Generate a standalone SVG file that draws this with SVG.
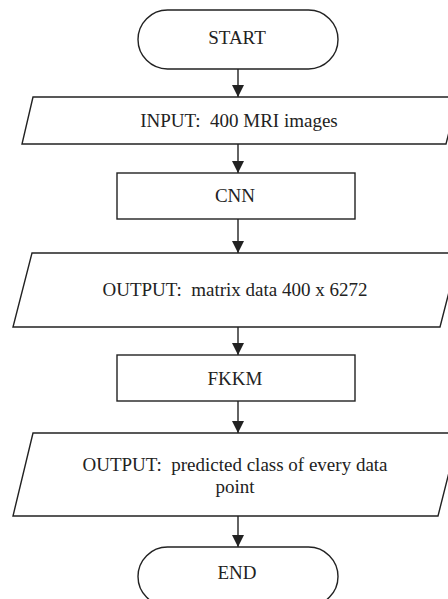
<svg xmlns="http://www.w3.org/2000/svg" width="448" height="599" viewBox="0 0 448 599">
<defs>
<style>
.s{fill:#fff;stroke:#222;stroke-width:1.4}
.t{font-family:"Liberation Serif","Times New Roman",serif;font-size:19px;fill:#222;text-anchor:middle;white-space:pre}
.c{stroke:#222;stroke-width:1.4;fill:none}
</style>
<marker id="ah" viewBox="0 0 12 12" refX="12" refY="6" markerWidth="12" markerHeight="12" markerUnits="userSpaceOnUse" orient="auto">
<path d="M0,0 L12,6 L0,12 Z" fill="#222"/>
</marker>
</defs>
<rect width="448" height="599" fill="#fff"/>
<g id="connectors">
<line class="c" x1="238" y1="69" x2="238" y2="97" marker-end="url(#ah)"/>
<line class="c" x1="238" y1="144" x2="238" y2="173" marker-end="url(#ah)"/>
<line class="c" x1="238" y1="219" x2="238" y2="253" marker-end="url(#ah)"/>
<line class="c" x1="238" y1="327" x2="238" y2="355" marker-end="url(#ah)"/>
<line class="c" x1="238" y1="401" x2="238" y2="433" marker-end="url(#ah)"/>
<line class="c" x1="238" y1="516" x2="238" y2="547" marker-end="url(#ah)"/>
</g>
<g id="start">
<rect class="s" x="138" y="10" width="200" height="59" rx="29.5"/>
<text class="t" x="237" y="44">START</text>
</g>
<g id="input">
<polygon class="s" points="33,97 458,97 446,144 22,144"/>
<text class="t" x="239" y="127" xml:space="preserve">INPUT:  400 MRI images</text>
</g>
<g id="cnn">
<rect class="s" x="117" y="173" width="238" height="46"/>
<text class="t" x="235" y="202">CNN</text>
</g>
<g id="output1">
<polygon class="s" points="32,253 459,253 440,327 13,327"/>
<text class="t" x="235" y="296" xml:space="preserve">OUTPUT:  matrix data 400 x 6272</text>
</g>
<g id="fkkm">
<rect class="s" x="117" y="355" width="238" height="46"/>
<text class="t" x="235" y="385">FKKM</text>
</g>
<g id="output2">
<polygon class="s" points="33,433 459,433 438,516 13,516"/>
<text class="t" x="235" y="471" xml:space="preserve">OUTPUT:  predicted class of every data</text>
<text class="t" x="235" y="493">point</text>
</g>
<g id="end">
<rect class="s" x="138" y="547" width="200" height="59" rx="29.5"/>
<text class="t" x="237" y="579">END</text>
</g>
</svg>
